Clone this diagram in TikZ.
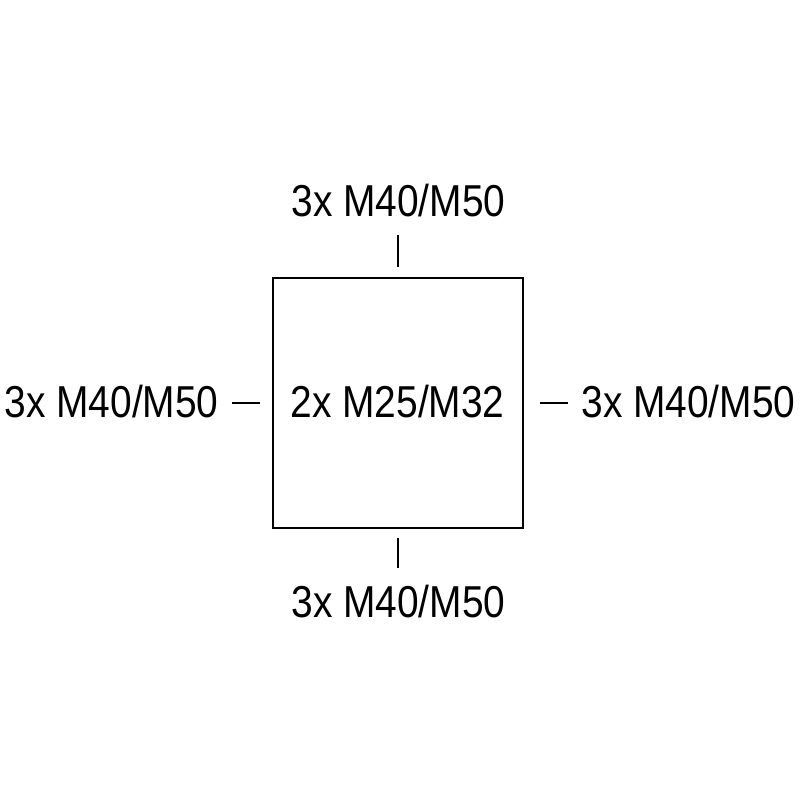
\documentclass[tikz,border=0pt]{standalone}
\usepackage{fontspec}
\setmainfont{Liberation Sans}[FakeStretch=0.87]

\begin{document}
\begin{tikzpicture}[line width=1.4pt,
  size/.style={font=\fontsize{31.8}{38}\selectfont, inner sep=0pt, anchor=base}]
\useasboundingbox (0,0) rectangle (20,20);
\coordinate (SW) at (6.825,6.8);
\coordinate (NE) at (13.075,13.05);
\coordinate (Ttop) at (9.95,14.125);
\coordinate (Tbot) at (9.95,13.325);
\coordinate (Btop) at (9.95,6.55);
\coordinate (Bbot) at (9.95,5.8);
\coordinate (Lleft) at (5.8,9.925);
\coordinate (Lright) at (6.5,9.925);
\coordinate (Rleft) at (13.5,9.925);
\coordinate (Rright) at (14.2,9.925);
\draw (SW) rectangle (NE);
\draw (Ttop) -- (Tbot);
\draw (Btop) -- (Bbot);
\draw (Lleft) -- (Lright);
\draw (Rleft) -- (Rright);

% cable entries on each side
\node [size] (top) at (9.96,14.575) {3x M40/M50};
\node [size] (bottom) at (9.96,4.55) {3x M40/M50};
\node [size] (left) at (2.79,9.55) {3x M40/M50};
\node [size] (right) at (17.21,9.55) {3x M40/M50};
\node [size] (centre) at (9.94,9.55) {2x M25/M32};

\end{tikzpicture}
\end{document}
